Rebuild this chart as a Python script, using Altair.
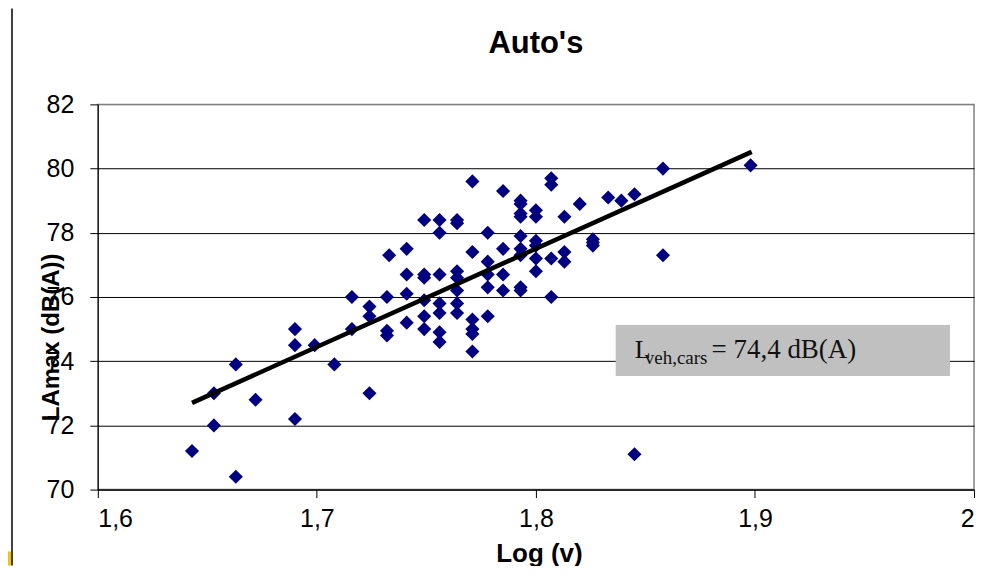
import altair as alt
import pandas as pd

# ---- data ----
log_v = [1.643, 1.653, 1.653, 1.663, 1.663, 1.672, 1.690, 1.690, 1.690, 1.699,
         1.708, 1.716, 1.716, 1.724, 1.724, 1.724, 1.732, 1.732, 1.732, 1.733,
         1.741, 1.741, 1.741, 1.741, 1.749, 1.749, 1.749, 1.749, 1.749, 1.749,
         1.756, 1.756, 1.756, 1.756, 1.756, 1.756, 1.756, 1.764, 1.764, 1.764,
         1.764, 1.764, 1.764, 1.764, 1.771, 1.771, 1.771, 1.771, 1.771, 1.771,
         1.778, 1.778, 1.778, 1.778, 1.778, 1.785, 1.785, 1.785, 1.785, 1.793,
         1.793, 1.793, 1.793, 1.793, 1.793, 1.793, 1.793, 1.793, 1.800, 1.800,
         1.800, 1.800, 1.800, 1.800, 1.807, 1.807, 1.807, 1.807, 1.813, 1.813,
         1.813, 1.820, 1.826, 1.826, 1.826, 1.833, 1.839, 1.845, 1.845, 1.858,
         1.858, 1.898]
lamax = [71.2, 72.0, 73.0, 73.9, 70.4, 72.8, 75.0, 74.5, 72.2, 74.5,
         73.9, 76.0, 75.0, 75.7, 75.4, 73.0, 76.0, 74.8, 74.95, 77.3,
         77.5, 76.7, 76.1, 75.2, 78.4, 76.7, 76.6, 75.9, 75.4, 75.0,
         78.4, 78.0, 76.7, 75.8, 75.5, 74.9, 74.6, 78.4, 78.3, 76.8,
         76.6, 76.2, 75.8, 75.5, 79.6, 77.4, 75.3, 75.0, 74.85, 74.3,
         78.0, 77.1, 76.7, 76.3, 75.4, 79.3, 77.5, 76.7, 76.2, 79.0,
         78.9, 78.6, 78.5, 77.9, 77.5, 77.3, 76.3, 76.2, 78.7, 78.5,
         77.75, 77.6, 77.2, 76.8, 79.7, 79.5, 77.2, 76.0, 78.5, 77.4,
         77.1, 78.9, 77.8, 77.7, 77.6, 79.1, 79.0, 79.2, 71.1, 80.0,
         77.3, 80.1]

trend_x = [1.643, 1.8985]
trend_y = [72.7, 80.52]

box_x = [1.8364, 1.989]
box_y = [73.54, 75.13]

x_ticks = [1.6, 1.7, 1.8, 1.9, 2.0]
y_ticks = [70, 72, 74, 76, 78, 80, 82]

title_text = "Auto's"

FONT = "Liberation Sans"
SERIF = "Liberation Serif"

pts = pd.DataFrame({"log_v": log_v, "lamax": lamax})
trend = pd.DataFrame({"log_v": trend_x, "lamax": trend_y})
box = pd.DataFrame({"x": [box_x[0]], "x2": [box_x[1]], "y": [box_y[0]], "y2": [box_y[1]]})
ann = pd.DataFrame({
    "x": [1.8451, 1.8497, 1.8802],
    "y": [74.10, 73.92, 74.10],
    "t": ["L", "veh,cars", "= 74,4 dB(A)"],
    "fs": [26, 19, 27],
})
one = pd.DataFrame({"a": [0]})
ttl = pd.DataFrame({"t": [title_text]})

x_scale = alt.Scale(domain=[1.6, 2.0], nice=False, zero=False)
y_scale = alt.Scale(domain=[70, 82], nice=False, zero=False)

x_axis = alt.Axis(
    title="Log (v)", values=x_ticks,
    labelExpr="datum.value == 2 ? '2' : replace(format(datum.value, '.1f'), '.', ',')",
    grid=False, tickSize=8, tickColor="#000", domainColor="#000",
    labelFont=FONT, labelFontSize=25, labelColor="#000", labelPadding=9,
    titleFont=FONT, titleFontSize=26, titleFontWeight="bold", titleColor="#000",
    titleX=442, titleY=72, titleBaseline="alphabetic", titleAlign="center",
)
y_axis = alt.Axis(
    title="LAmax (dB(A))", values=y_ticks, format="d",
    grid=True,
    gridColor={"condition": {"test": "datum.value === 82", "value": "#808080"}, "value": "#000000"},
    gridWidth=1,
    tickSize=8, tickColor="#000", domainColor="#000",
    labelFont=FONT, labelFontSize=25, labelColor="#000", labelPadding=16,
    titleFont=FONT, titleFontSize=24, titleFontWeight="bold", titleColor="#000",
    titleX=-46, titleY=233, titleAngle=-90, titleBaseline="middle", titleAlign="center",
)

base_x = alt.X("log_v:Q", scale=x_scale, axis=x_axis)
base_y = alt.Y("lamax:Q", scale=y_scale, axis=y_axis)

points = alt.Chart(pts).mark_point(
    shape="diamond", filled=True, color="#000080", size=200, opacity=1
).encode(x=base_x, y=base_y)

line = alt.Chart(trend).mark_line(color="#000000", strokeWidth=4.5).encode(
    x=alt.X("log_v:Q", scale=x_scale), y=alt.Y("lamax:Q", scale=y_scale)
)

rect = alt.Chart(box).mark_rect(color="#C0C0C0").encode(
    x=alt.X("x:Q", scale=x_scale), x2="x2:Q",
    y=alt.Y("y:Q", scale=y_scale), y2="y2:Q",
)

texts = alt.Chart(ann).mark_text(
    font=SERIF, align="left", baseline="alphabetic", color="#111111"
).encode(
    x=alt.X("x:Q", scale=x_scale), y=alt.Y("y:Q", scale=y_scale),
    text="t:N", size=alt.Size("fs:Q", scale=None, legend=None),
)

title_mark = alt.Chart(ttl).mark_text(
    font=FONT, fontSize=31, fontWeight="bold", color="#000000",
    align="center", baseline="alphabetic"
).encode(x=alt.value(439), y=alt.value(-51), text="t:N")

vline = alt.Chart(one).mark_rule(color="#000000", strokeWidth=1.5).encode(
    x=alt.value(-86), y=alt.value(-96), y2=alt.value(462)
)
yellow = alt.Chart(one).mark_rect(color="#F2C500").encode(
    x=alt.value(-90), x2=alt.value(-87), y=alt.value(448), y2=alt.value(462)
)

chart = alt.layer(vline, yellow, points, line, rect, texts, title_mark).properties(
    width=878, height=386,
    autosize=alt.AutoSizeParams(type="none"),
    padding={"left": 90, "top": 96, "right": 12, "bottom": 76},
).configure_view(stroke="#808080", strokeWidth=1.5)

chart.save("out.html", embed_options={"renderer": "svg", "actions": False})
